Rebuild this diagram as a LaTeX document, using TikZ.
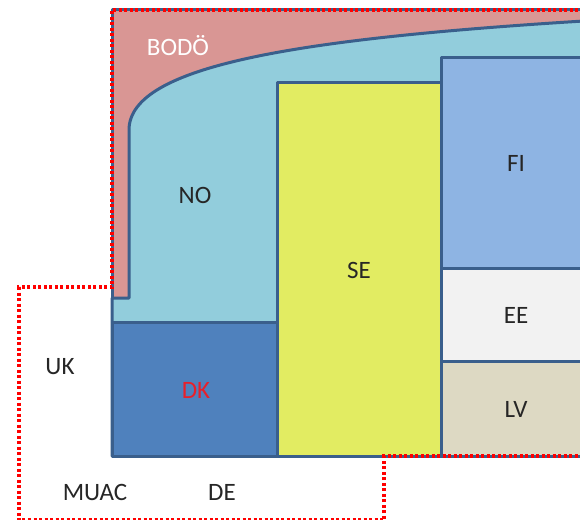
\documentclass[tikz,border=0pt]{standalone}
\usepackage{fontspec}
\setmainfont{Carlito}
\definecolor{edge}{HTML}{3A5F8C}
\definecolor{bodo}{HTML}{D99694}
\definecolor{norway}{HTML}{92CDDC}
\definecolor{denmark}{HTML}{4F81BD}
\definecolor{sweden}{HTML}{E2EC62}
\definecolor{finland}{HTML}{8EB4E3}
\definecolor{estonia}{HTML}{F2F2F2}
\definecolor{latvia}{HTML}{DDD9C3}
\definecolor{labelred}{HTML}{E8202A}
\begin{document}
\begin{tikzpicture}[x=1pt,y=-1pt,
    sector/.style={draw=edge,line width=3pt,line join=round},
    lbl/.style={font=\fontsize{25}{30}\selectfont,text=black!85},
    muac/.style={draw=red,line width=3.2pt,dash pattern=on 3pt off 2.5pt}]
  \useasboundingbox (0,0) rectangle (580,519);
  \begin{scope}
    \clip (0,0) rectangle (580,519);
    % Bodo sits behind Norway
    \draw[sector,fill=bodo] (112,10) rectangle (600,456);
    \draw[sector,fill=norway] (112,456) -- (112,298) -- (129,298) -- (129,130)
      .. controls (129,65) and (300,38) .. (600,20) -- (600,456) -- cycle;
    \draw[sector,fill=denmark] (112,322) rectangle (277,456);
    \draw[sector,fill=sweden] (277,82) rectangle (441,456);
    \draw[sector,fill=finland] (441,57) rectangle (600,268);
    \draw[sector,fill=estonia] (441,268) rectangle (600,361);
    \draw[sector,fill=latvia] (441,361) rectangle (600,456);
    % MUAC boundary
    \draw[muac] (600,10) -- (112,10) -- (112,287) -- (19,287) -- (19,520)
      -- (384,520) -- (384,456) -- (600,456);
  \end{scope}
  \node[lbl,text=white] (bodoe) at (178,46) {BODÖ};
  \node[lbl] (no) at (195,195) {NO};
  \node[lbl,text=labelred] (dk) at (196,390) {DK};
  \node[lbl] (se) at (359,270) {SE};
  \node[lbl] (fi) at (516,163) {FI};
  \node[lbl] (ee) at (516,315) {EE};
  \node[lbl] (lv) at (516,409) {LV};
  \node[lbl] (uk) at (60,367) {UK};
  \node[lbl] (muac) at (95,492) {MUAC};
  \node[lbl] (de) at (222,492) {DE};
\end{tikzpicture}
\end{document}
